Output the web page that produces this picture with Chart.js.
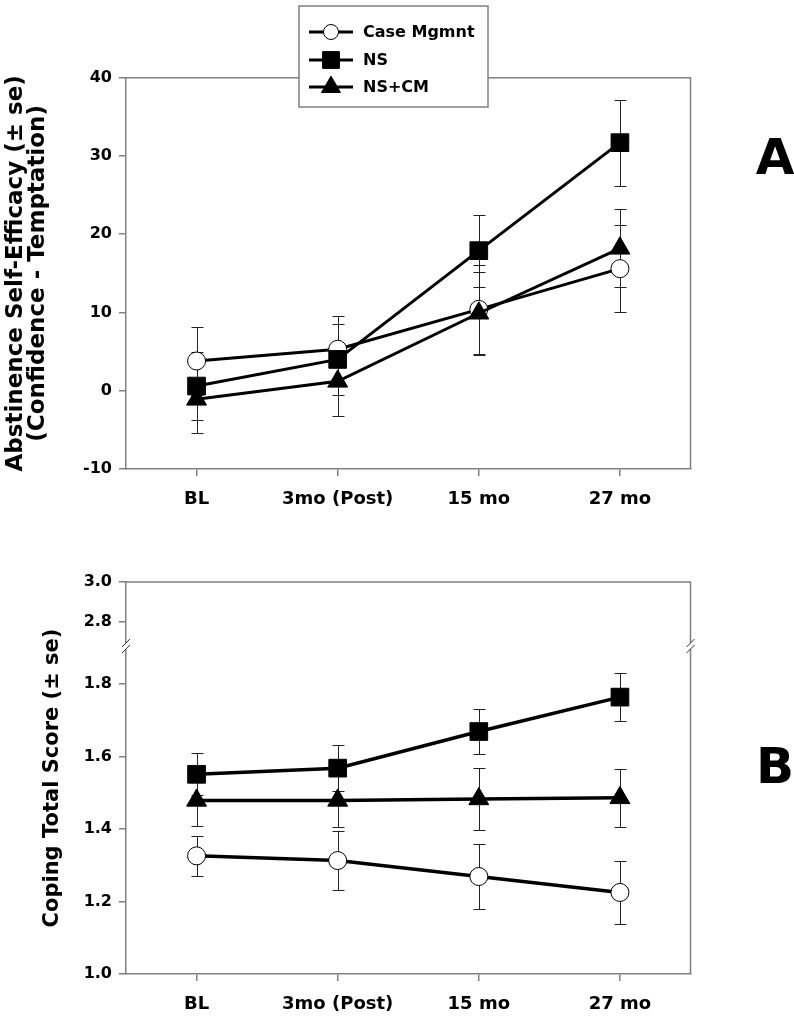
<!DOCTYPE html>
<html>
<head>
<meta charset="utf-8">
<script src="https://cdn.jsdelivr.net/npm/chart.js@4.4.0/dist/chart.umd.min.js"></script>
<style>
    html, body { margin: 0; padding: 0; background: #fff; }
    #wrapA { position: absolute; left: 0; top: 0; width: 794px; height: 520px; }
    #wrapB { position: absolute; left: 0; top: 520px; width: 794px; height: 499px; }
</style>
</head>
<body>
<div id="wrapA"><canvas id="chartA"></canvas></div>
<div id="wrapB"><canvas id="chartB"></canvas></div>
<script>
/* ===== Data ===== */
var TIMEPOINTS   = ['BL', '3mo (Post)', '15 mo', '27 mo'];
var SERIES_NAMES = ['Case Mgmnt', 'NS', 'NS+CM'];

// Panel A: abstinence self-efficacy, means and standard errors
var A_CASE      = [3.8, 5.3, 10.4, 15.6];
var A_CASE_SE   = [4.3, 4.2, 5.7, 5.6];
var A_NS        = [0.6, 4.0, 17.9, 31.7];
var A_NS_SE     = [4.3, 4.5, 4.6, 5.5];
var A_NSCM      = [-1.1, 1.2, 9.9, 18.2];
var A_NSCM_SE   = [4.3, 4.4, 5.3, 5.0];
var A_TICKS     = [-10, 0, 10, 20, 30, 40];

// Panel B: coping total score, means and standard errors
var B_CASE      = [1.326, 1.313, 1.269, 1.225];
var B_CASE_SE   = [0.056, 0.081, 0.090, 0.088];
var B_NS        = [1.551, 1.568, 1.669, 1.764];
var B_NS_SE     = [0.058, 0.064, 0.063, 0.066];
var B_NSCM      = [1.479, 1.479, 1.483, 1.486];
var B_NSCM_SE   = [0.072, 0.074, 0.085, 0.080];
var B_TICKS_LOW  = [1.0, 1.2, 1.4, 1.6, 1.8];
var B_TICKS_HIGH = [2.8, 3.0];

/* ===== Style ===== */
var FONT_FAMILY = "'DejaVu Sans', sans-serif";
var FRAME = '#808080';
var STYLES = [
    { pointStyle: 'circle',   radius: 9,    fill: '#fff', order: 3 },
    { pointStyle: 'rect',     radius: 12.5, fill: '#000', order: 2 },
    { pointStyle: 'triangle', radius: 11.5, fill: '#000', order: 1 }
];

function makeDatasets(values, errors, lineWidth, axisId) {
    return values.map(function (vals, i) {
        var st = STYLES[i];
        return {
            label: SERIES_NAMES[i],
            data: vals,
            se: errors[i],
            yAxisID: axisId,
            order: st.order,
            borderColor: '#000',
            borderWidth: lineWidth,
            pointStyle: st.pointStyle,
            pointRadius: st.radius,
            pointBackgroundColor: st.fill,
            pointBorderColor: '#000',
            pointBorderWidth: 1,
            tension: 0,
            fill: false
        };
    });
}

/* ===== Plugins ===== */
var errorBars = {
    id: 'errorBars',
    beforeDatasetsDraw: function (chart) {
        var ctx = chart.ctx;
        ctx.save();
        ctx.strokeStyle = '#222';
        ctx.lineWidth = 1;
        chart.data.datasets.forEach(function (ds, i) {
            var meta = chart.getDatasetMeta(i);
            var ys = chart.scales[meta.yAxisID];
            ds.data.forEach(function (v, j) {
                var x = Math.round(meta.data[j].x) + 0.5;
                var top = Math.round(ys.getPixelForValue(v + ds.se[j])) + 0.5;
                var bot = Math.round(ys.getPixelForValue(v - ds.se[j])) + 0.5;
                ctx.beginPath();
                ctx.moveTo(x, top); ctx.lineTo(x, bot);
                ctx.moveTo(x - 6, top); ctx.lineTo(x + 6, top);
                ctx.moveTo(x - 6, bot); ctx.lineTo(x + 6, bot);
                ctx.stroke();
            });
        });
        ctx.restore();
    }
};

function drawFrameTopRight(chart) {
    var a = chart.chartArea, ctx = chart.ctx;
    ctx.save();
    ctx.strokeStyle = FRAME;
    ctx.lineWidth = 1.5;
    ctx.beginPath();
    ctx.moveTo(a.left, a.top);
    ctx.lineTo(a.right, a.top);
    ctx.lineTo(a.right, a.bottom);
    ctx.stroke();
    ctx.restore();
}

function drawPanelLetter(chart, letter, x, y) {
    var ctx = chart.ctx;
    ctx.save();
    ctx.fillStyle = '#000';
    ctx.font = 'bold 50px ' + FONT_FAMILY;
    ctx.textAlign = 'center';
    ctx.textBaseline = 'middle';
    ctx.fillText(letter, x, y);
    ctx.restore();
}

var panelA = {
    id: 'panelA',
    afterDraw: function (chart) {
        var ctx = chart.ctx;
        drawFrameTopRight(chart);
        drawPanelLetter(chart, 'A', 775, 161);

        // legend box overlapping the top frame
        ctx.save();
        ctx.fillStyle = '#fff';
        ctx.strokeStyle = FRAME;
        ctx.lineWidth = 1.5;
        ctx.fillRect(299, 6, 189, 101);
        ctx.strokeRect(299, 6, 189, 101);
        var rows = [32, 60, 87];
        chart.data.datasets.forEach(function (ds, i) {
            var y = rows[i];
            ctx.strokeStyle = '#000';
            ctx.lineWidth = 3;
            ctx.beginPath();
            ctx.moveTo(309, y); ctx.lineTo(353, y);
            ctx.stroke();
            ctx.fillStyle = ds.pointBackgroundColor;
            ctx.lineWidth = 1;
            Chart.helpers.drawPoint(ctx, {
                pointStyle: ds.pointStyle,
                radius: i === 0 ? 7.5 : ds.pointRadius * 0.95,
                rotation: 0,
                borderWidth: 1
            }, 331, y);
            ctx.fillStyle = '#000';
            ctx.font = 'bold 16px ' + FONT_FAMILY;
            ctx.textAlign = 'left';
            ctx.textBaseline = 'middle';
            ctx.fillText(ds.label, 363, y + 1);
        });
        ctx.restore();
    }
};

var panelB = {
    id: 'panelB',
    afterDraw: function (chart) {
        var ctx = chart.ctx, a = chart.chartArea;
        drawFrameTopRight(chart);
        drawPanelLetter(chart, 'B', 775, 250);

        // axis break on both sides of the frame
        var by = chart.scales.yHigh.bottom;
        [a.left, a.right].forEach(function (x) {
            ctx.save();
            ctx.fillStyle = '#fff';
            ctx.fillRect(x - 3, by - 3, 6, 6);
            ctx.strokeStyle = '#333';
            ctx.lineWidth = 1;
            ctx.beginPath();
            ctx.moveTo(x - 4, by + 1); ctx.lineTo(x + 4, by - 7);
            ctx.moveTo(x - 4, by + 7); ctx.lineTo(x + 4, by - 1);
            ctx.stroke();
            ctx.restore();
        });

        // y title centred on the whole broken axis
        ctx.save();
        ctx.translate(53, (a.top + a.bottom) / 2);
        ctx.rotate(-Math.PI / 2);
        ctx.fillStyle = '#000';
        ctx.font = 'bold 21px ' + FONT_FAMILY;
        ctx.textAlign = 'center';
        ctx.textBaseline = 'middle';
        ctx.fillText('Coping Total Score (\u00B1 se)', 0, 0);
        ctx.restore();
    }
};

/* ===== Shared axis pieces ===== */
function xAxis(height) {
    return {
        type: 'category',
        offset: true,
        grid: { display: true, drawOnChartArea: false, drawTicks: true, tickLength: 7, color: FRAME, lineWidth: 1.5 },
        border: { display: true, color: FRAME, width: 1.5 },
        ticks: { color: '#000', padding: 13, maxRotation: 0, autoSkip: false,
                 font: { family: FONT_FAMILY, size: 18, weight: 'bold' } },
        afterFit: function (s) { s.height = height; }
    };
}

function yAxis(min, max, tickList, fmt) {
    return {
        type: 'linear',
        position: 'left',
        min: min,
        max: max,
        grid: { display: true, drawOnChartArea: false, drawTicks: true, tickLength: 7, color: FRAME, lineWidth: 1.5 },
        border: { display: true, color: FRAME, width: 1.5 },
        ticks: { color: '#000', padding: 7,
                 font: { family: FONT_FAMILY, size: 16, weight: 'bold' },
                 callback: fmt },
        afterBuildTicks: function (s) { s.ticks = tickList.map(function (v) { return { value: v }; }); },
        afterFit: function (s) { s.width = 126; }
    };
}

var baseOptions = {
    responsive: true,
    maintainAspectRatio: false,
    animation: false,
    events: [],
    plugins: { legend: { display: false }, tooltip: { enabled: false } }
};

/* ===== Panel A ===== */
var yA = yAxis(-10, 40, A_TICKS, function (v) { return String(v); });
yA.title = {
    display: true,
    text: ['Abstinence Self-Efficacy (\u00B1 se)', '(Confidence - Temptation)'],
    color: '#000',
    font: { family: FONT_FAMILY, size: 23, weight: 'bold', lineHeight: 0.96 },
    padding: { top: 5, bottom: 0 }
};

new Chart(document.getElementById('chartA'), {
    type: 'line',
    data: {
        labels: TIMEPOINTS,
        datasets: makeDatasets([A_CASE, A_NS, A_NSCM], [A_CASE_SE, A_NS_SE, A_NSCM_SE], 3, 'y')
    },
    options: Object.assign({}, baseOptions, {
        layout: { padding: { top: 77.7, left: 0, right: 103.5, bottom: 0 } },
        scales: { x: xAxis(51), y: yA }
    }),
    plugins: [errorBars, panelA]
});

/* ===== Panel B (broken y axis as two stacked scales) ===== */
var yLow = yAxis(1.0, 1.905, B_TICKS_LOW, function (v) { return v.toFixed(1); });
yLow.stack = 'coping';
yLow.stackWeight = 328;
var yHigh = yAxis(2.678, 3.0, B_TICKS_HIGH, function (v) { return v.toFixed(1); });
yHigh.stack = 'coping';
yHigh.stackWeight = 64;

new Chart(document.getElementById('chartB'), {
    type: 'line',
    data: {
        labels: TIMEPOINTS,
        datasets: makeDatasets([B_CASE, B_NS, B_NSCM], [B_CASE_SE, B_NS_SE, B_NSCM_SE], 3.5, 'yLow')
    },
    options: Object.assign({}, baseOptions, {
        layout: { padding: { top: 62, left: 0, right: 103.5, bottom: 0 } },
        scales: { x: xAxis(45), yLow: yLow, yHigh: yHigh }
    }),
    plugins: [errorBars, panelB]
});
</script>
</body>
</html>
